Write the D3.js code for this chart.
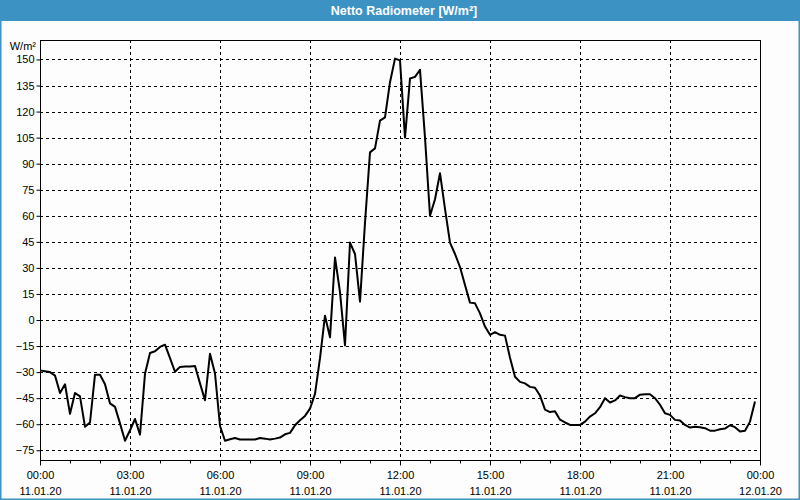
<!DOCTYPE html>
<html>
<head>
<meta charset="utf-8">
<script src="https://cdn.jsdelivr.net/npm/d3@7/dist/d3.min.js"></script>
<style>
  html, body { margin: 0; padding: 0; background: #fcfdfc; }
  svg { display: block; }
  text { font-family: "Liberation Sans", Arial, sans-serif; }
</style>
</head>
<body>
<svg id="chart" width="800" height="500"></svg>
<script>
// ---- data ----
const title = "Netto Radiometer [W/m²]";
const unitLabel = "W/m²";
const startTime = "2020-01-11T00:00:00";
const endTime = "2020-01-12T00:00:00";
const stepMinutes = 10;
const values = [
  -29, -29.5, -30, -32, -42, -37, -54, -42, -44, -61.5,
  -59, -31.5, -31.5, -37, -48, -50, -59.5, -69.5, -63.5, -57,
  -66, -31, -19, -18, -15.5, -14.2, -22, -29.8, -27, -26.8,
  -26.8, -26.5, -36.5, -46.2, -19.4, -30.8, -61, -69.5, -68.7, -67.9,
  -68.8, -68.8, -68.8, -68.8, -67.9, -68.3, -68.8, -68.3, -67.7, -65.8,
  -65, -60.6, -57.7, -55.2, -51, -42.5, -22, 2.5, -10, 36,
  16, -14.6, 44.6, 38, 10.6, 56, 96.5, 98.8, 114.8, 116.7,
  136.9, 150.5, 149.5, 105, 139, 140, 144, 105, 60, 69.5,
  84.5, 64, 44.5, 38, 30.5, 20.2, 10, 9.6, 3.8, -3.8,
  -8.5, -7, -8.5, -9, -21.7, -32.7, -35.6, -36.5, -38.5, -39,
  -43.5, -51.6, -53, -52.6, -57.4, -59, -60.4, -60.4, -60.4, -58.5,
  -55.6, -53.7, -50.2, -45, -47.5, -46.3, -43.5, -44.4, -45, -45,
  -43, -42.7, -42.7, -45, -48.8, -53.7, -54.6, -57.5, -57.9, -60.4,
  -61.9, -61.5, -61.7, -62.3, -63.7, -63.7, -62.9, -62.5, -60.6, -61.7,
  -64.2, -63.7, -58.5, -46.9
];
const yTicks = [-75, -60, -45, -30, -15, 0, 15, 30, 45, 60, 75, 90, 105, 120, 135, 150];
const yDomain = [-80.6, 161.2];

// ---- chart ----
const svg = d3.select("#chart");
const W = 800, H = 500;
const plot = { left: 40, right: 760, top: 40, bottom: 460 };
const blue = "#3d92c4";

const t0 = new Date(startTime);
const data = values.map((v, i) => ({ t: new Date(t0.getTime() + i * stepMinutes * 60000), v }));

const x = d3.scaleTime().domain([t0, new Date(endTime)]).range([plot.left, plot.right]);
const y = d3.scaleLinear().domain(yDomain).range([plot.bottom, plot.top]);

svg.append("rect").attr("x", 0).attr("y", 0).attr("width", W).attr("height", H).attr("fill", "#fcfdfc");

// title bar
svg.append("rect").attr("x", 0).attr("y", 0).attr("width", W).attr("height", 21).attr("fill", blue);
svg.append("text").attr("x", W / 2 + 4).attr("y", 15).attr("text-anchor", "middle")
  .attr("fill", "#ffffff").attr("font-weight", "bold").attr("font-size", 12.5).text(title);

// outer border
svg.append("rect").attr("x", 0.5).attr("y", 0.5).attr("width", W - 1).attr("height", H - 1)
  .attr("fill", "none").attr("stroke", blue).attr("stroke-width", 2);

// gridlines
const majorTimes = d3.timeHour.every(3).range(t0, new Date(new Date(endTime).getTime() + 1));
const hourTimes = d3.timeHour.every(1).range(t0, new Date(new Date(endTime).getTime() + 1));

const grid = svg.append("g").attr("stroke", "#000").attr("stroke-width", 1).attr("stroke-dasharray", "3,3");
yTicks.forEach(v => {
  const yy = Math.round(y(v)) + 0.5;
  grid.append("line").attr("x1", plot.left).attr("x2", plot.right).attr("y1", yy).attr("y2", yy);
});
majorTimes.forEach(t => {
  const xx = Math.round(x(t)) + 0.5;
  if (xx <= plot.left + 1 || xx >= plot.right - 1) return;
  grid.append("line").attr("x1", xx).attr("x2", xx).attr("y1", plot.top).attr("y2", plot.bottom);
});

// y axis
const yAxis = d3.axisLeft(y).tickValues(yTicks).tickSize(4).tickPadding(2).tickFormat(d3.format("d"));
const gy = svg.append("g").attr("transform", `translate(${plot.left + 0.5},0)`).call(yAxis);
gy.select(".domain").remove();
gy.selectAll("text").attr("font-size", 11).attr("fill", "#000").style("font-family", "Liberation Sans, Arial, sans-serif");
gy.selectAll("line").attr("stroke", "#000");

// x axis: minor hour ticks
const gxm = svg.append("g").attr("transform", `translate(0,${plot.bottom + 0.5})`)
  .call(d3.axisBottom(x).tickValues(hourTimes).tickSize(3).tickFormat(""));
gxm.select(".domain").remove();
gxm.selectAll("line").attr("stroke", "#000");

const fmtTime = d3.timeFormat("%H:%M");
const fmtDate = d3.timeFormat("%d.%m.%y");
const gx = svg.append("g").attr("transform", `translate(0,${plot.bottom + 0.5})`)
  .call(d3.axisBottom(x).tickValues(majorTimes).tickSize(5).tickFormat(""));
gx.select(".domain").remove();
gx.selectAll("line").attr("stroke", "#000");
gx.selectAll(".tick").each(function(d) {
  const g = d3.select(this);
  g.append("text").attr("y", 18).attr("fill", "#000").attr("text-anchor", "middle").attr("font-size", 11).text(fmtTime(d));
  g.append("text").attr("y", 34).attr("fill", "#000").attr("text-anchor", "middle").attr("font-size", 11).text(fmtDate(d));
});

// plot frame
svg.append("rect").attr("x", plot.left + 0.5).attr("y", plot.top + 0.5)
  .attr("width", plot.right - plot.left).attr("height", plot.bottom - plot.top)
  .attr("fill", "none").attr("stroke", "#000").attr("stroke-width", 1);

// unit label
svg.append("text").attr("x", 36).attr("y", 50).attr("text-anchor", "end").attr("font-size", 11).attr("fill", "#000").text(unitLabel);

// line
const line = d3.line().x(d => x(d.t)).y(d => y(d.v));
svg.append("path").datum(data).attr("d", line).attr("fill", "none")
  .attr("stroke", "#000").attr("stroke-width", 2).attr("stroke-linejoin", "round");
</script>
</body>
</html>
